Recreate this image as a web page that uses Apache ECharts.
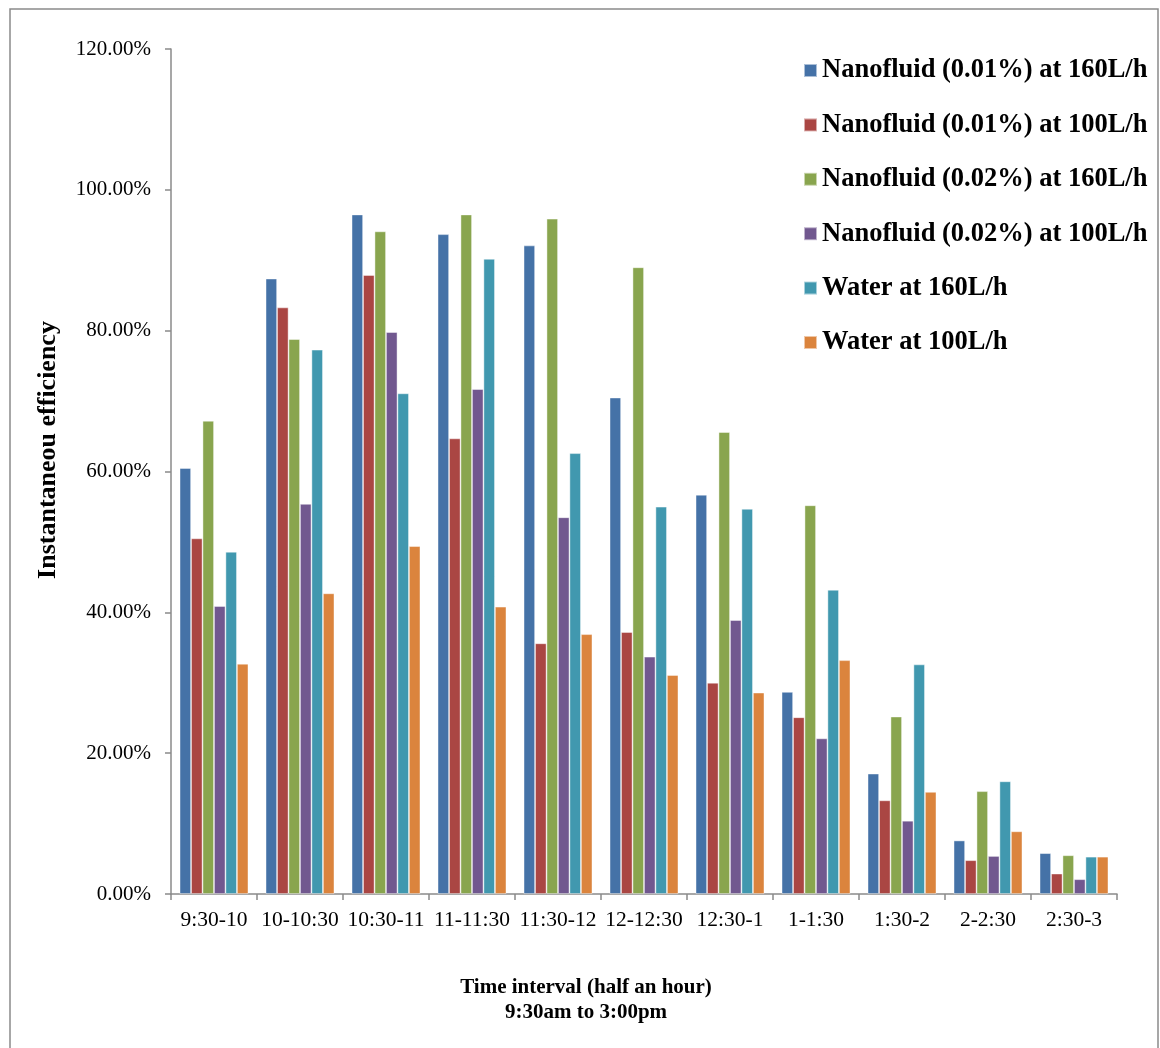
<!DOCTYPE html>
<html>
<head>
<meta charset="utf-8">
<script src="https://cdn.jsdelivr.net/npm/echarts@6/dist/echarts.min.js"></script>
<style>
html,body{margin:0;padding:0;background:#fff;}
#c{width:1160px;height:1048px;}
</style>
</head>
<body>
<div id="c"></div>
<script>
const categories = ['9:30-10','10-10:30','10:30-11','11-11:30','11:30-12','12-12:30','12:30-1','1-1:30','1:30-2','2-2:30','2:30-3'];
const seriesNames = ['Nanofluid (0.01%) at 160L/h','Nanofluid (0.01%) at 100L/h','Nanofluid (0.02%) at 160L/h','Nanofluid (0.02%) at 100L/h','Water at 160L/h','Water at 100L/h'];
const nano001_160 = [0.605, 0.874, 0.965, 0.937, 0.921, 0.705, 0.567, 0.287, 0.171, 0.076, 0.058];
const nano001_100 = [0.505, 0.833, 0.879, 0.647, 0.356, 0.372, 0.300, 0.251, 0.133, 0.048, 0.029];
const nano002_160 = [0.672, 0.788, 0.941, 0.965, 0.959, 0.890, 0.656, 0.552, 0.252, 0.146, 0.055];
const nano002_100 = [0.409, 0.554, 0.798, 0.717, 0.535, 0.337, 0.389, 0.221, 0.104, 0.054, 0.021];
const water_160 = [0.486, 0.773, 0.711, 0.902, 0.626, 0.550, 0.547, 0.432, 0.326, 0.160, 0.053];
const water_100 = [0.327, 0.427, 0.494, 0.408, 0.369, 0.311, 0.286, 0.332, 0.145, 0.089, 0.053];
const yTicks = [0, 0.2, 0.4, 0.6, 0.8, 1.0, 1.2];

const colors = ['#4572A7','#AA4643','#89A54E','#71588F','#4198AF','#DB843D'];
const allData = [nano001_160, nano001_100, nano002_160, nano002_100, water_160, water_100];

const chart = echarts.init(document.getElementById('c'), null, {renderer:'canvas'});
const serif = '"Liberation Serif","Times New Roman",serif';
const axisColor = '#8a8a8a';

chart.setOption({
  animation: false,
  color: colors,
  grid: {left:171, right:43, top:49, bottom:154, containLabel:false},
  legend: {
    orient: 'vertical',
    left: 803, top: 57,
    padding: 0,
    itemWidth: 13, itemHeight: 13,
    itemGap: 27.4,
    icon: 'rect',
    textStyle: {fontFamily: serif, fontWeight:'bold', fontSize:26.5, lineHeight:26, color:'#000'},
    data: seriesNames
  },
  xAxis: {
    type: 'category',
    data: categories,
    axisLine: {lineStyle:{color:axisColor, width:1.5}},
    axisTick: {show:true, length:6, alignWithLabel:false, lineStyle:{color:axisColor, width:1.5}},
    axisLabel: {fontFamily: serif, fontSize:21.5, color:'#000', margin:15, interval:0}
  },
  yAxis: {
    type: 'value',
    min: 0, max: 1.2, interval: 0.2,
    axisLine: {show:true, lineStyle:{color:axisColor, width:1.5}},
    axisTick: {show:true, length:6, lineStyle:{color:axisColor, width:1.5}},
    splitLine: {show:false},
    axisLabel: {fontFamily: serif, fontSize:21, color:'#000', margin:20,
      formatter: v => (v*100).toFixed(2) + '%'}
  },
  graphic: [
    {type:'rect', shape:{x:10, y:9, width:1148, height:1060}, style:{fill:'none', stroke:'#8a8a8a', lineWidth:1.5}, silent:true},
    {type:'text', x:48, y:450, rotation: Math.PI/2, style:{text:'Instantaneou efficiency', font:'bold 26px ' + serif, fill:'#000', align:'center', verticalAlign:'middle'}},
    {type:'text', x:586, y:988, style:{text:'Time interval (half an hour)', font:'bold 21px ' + serif, fill:'#000', align:'center', verticalAlign:'middle'}},
    {type:'text', x:586, y:1013, style:{text:'9:30am to 3:00pm', font:'bold 21px ' + serif, fill:'#000', align:'center', verticalAlign:'middle'}}
  ],
  series: allData.map((d, i) => ({
    name: seriesNames[i],
    type: 'bar',
    data: d,
    barGap: '0%',
    barCategoryGap: '20%',
    itemStyle: {color: colors[i], borderColor:'rgba(255,255,255,0.55)', borderWidth:0.8}
  }))
});
</script>
</body>
</html>
